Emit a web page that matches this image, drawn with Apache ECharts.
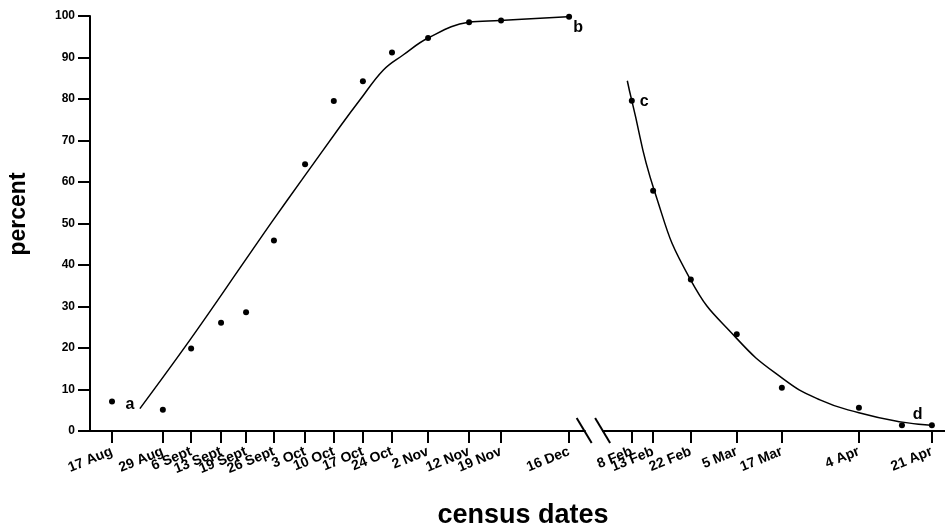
<!DOCTYPE html>
<html><head><meta charset="utf-8">
<script src="https://cdn.jsdelivr.net/npm/echarts@6/dist/echarts.min.js"></script>
<style>html,body{margin:0;padding:0;background:#fff}#c{width:945px;height:529px}</style>
</head><body><div id="c"></div>
<script>
// Census dates (tick labels) and their positions on the chart's day axis
const censusLabels = ['17 Aug','29 Aug','6 Sept','13 Sept','19 Sept','26 Sept','3 Oct','10 Oct','17 Oct','24 Oct','2 Nov','12 Nov','19 Nov','16 Dec','8 Feb','13 Feb','22 Feb','5 Mar','17 Mar','4 Apr','14 Apr','21 Apr'];
const censusX = [0,12.4,19.3,26.6,32.7,39.5,47.1,54.1,61.2,68.3,77.1,87.1,94.9,111.5,126.8,132,141.2,152.4,163.4,182.2,192.7,200];
const percentValues = [7.1,5.1,19.9,26.1,28.6,45.9,64.3,79.5,84.3,91.2,94.7,98.5,98.9,99.8,79.6,57.9,36.5,23.3,10.4,5.6,1.4,1.4];

// Fitted curves
const curve1X = [6.8,19.2,32.7,39.3,46.3,55.6,60.5,66.2,71,77.1,87,94.6,111.1];
const curve1Y = [5.4,22.2,41.4,50.8,60.5,73.3,79.8,87,90.6,94.7,98.5,98.9,99.8];
const curve2X = [125.7,126.8,132.3,141.1,152.2,163.4,172.7,182.2,192.4,199.8];
const curve2Y = [84.4,79.6,57.9,36.5,22.5,12.8,7.5,4.4,2.2,1.4];

// Point annotations
const annoText = ['a','b','c','d'];
const annoX = [4.39,113.7,129.8,196.5];
const annoY = [6.36,97.3,79.4,3.86];

// Axis break (between 16 Dec and 8 Feb), axis units
const breakMarks = [115.3,119.8];

const FONT = '"Liberation Sans", Arial, Helvetica, sans-serif';
const chart = echarts.init(document.getElementById('c'), null, {renderer:'canvas'});

function labelFor(v){
  for (let i=0;i<censusX.length;i++) if (Math.abs(censusX[i]-v)<1e-6) return censusLabels[i];
  return '';
}

const option = {
  animation:false,
  backgroundColor:'#fff',
  grid:{left:90,right:0,top:16,bottom:98,outerBoundsMode:'none',containLabel:false},
  xAxis:{
    type:'value', min:-5.37, max:203.2,
    splitLine:{show:false},
    axisLine:{show:true,onZero:false,lineStyle:{color:'#000',width:2}},
    axisTick:{show:true,customValues:censusX,length:12,lineStyle:{color:'#000',width:2}},
    axisLabel:{customValues:censusX,rotate:22,margin:20,showMinLabel:true,showMaxLabel:true,hideOverlap:false,
      fontFamily:FONT,fontWeight:'bold',fontSize:14,color:'#000',formatter:labelFor}
  },
  yAxis:{
    type:'value', min:0, max:100, interval:10,
    splitLine:{show:false},
    axisLine:{show:true,onZero:false,lineStyle:{color:'#000',width:2}},
    axisTick:{show:true,length:12,lineStyle:{color:'#000',width:2}},
    axisLabel:{margin:15,fontFamily:FONT,fontWeight:'bold',fontSize:12,color:'#000'}
  },
  series:[
    {type:'line',data:curve1X.map((x,i)=>[x,curve1Y[i]]),smooth:0.4,symbol:'none',lineStyle:{color:'#000',width:1.5},z:2},
    {type:'line',data:curve2X.map((x,i)=>[x,curve2Y[i]]),smooth:0.5,symbol:'none',lineStyle:{color:'#000',width:1.5},z:2},
    {type:'scatter',data:censusX.map((x,i)=>[x,percentValues[i]]),symbol:'circle',symbolSize:6,itemStyle:{color:'#000',opacity:1},z:3},
    {type:'scatter',data:annoX.map((x,i)=>[x,annoY[i],annoText[i]]),symbolSize:0,itemStyle:{opacity:1},
     label:{show:true,position:'inside',formatter:p=>p.value[2],fontFamily:FONT,fontWeight:'bold',fontSize:16,color:'#000'},z:4}
  ]
};
chart.setOption(option);

const y0 = chart.convertToPixel({gridIndex:0},[0,0])[1];
const bx = breakMarks.map(v=>chart.convertToPixel({gridIndex:0},[v,0])[0]);
chart.setOption({graphic:[
  {type:'rect',shape:{x:bx[0]+1,y:y0-3,width:bx[1]-bx[0]-2,height:6},style:{fill:'#fff'},z:100},
  {type:'line',shape:{x1:bx[0]-8,y1:y0-13,x2:bx[0]+7,y2:y0+12},style:{stroke:'#000',lineWidth:2},z:101},
  {type:'line',shape:{x1:bx[1]-8,y1:y0-13,x2:bx[1]+7,y2:y0+12},style:{stroke:'#000',lineWidth:2},z:101},
  {type:'text',x:19,y:214,rotation:Math.PI/2,style:{text:'percent',font:'bold 23px '+FONT,fill:'#000',textAlign:'center',textVerticalAlign:'middle'},z:100},
  {type:'text',x:523,y:515.6,style:{text:'census dates',font:'bold 27px '+FONT,fill:'#000',textAlign:'center',textVerticalAlign:'middle'},z:100}
]});
</script></body></html>
